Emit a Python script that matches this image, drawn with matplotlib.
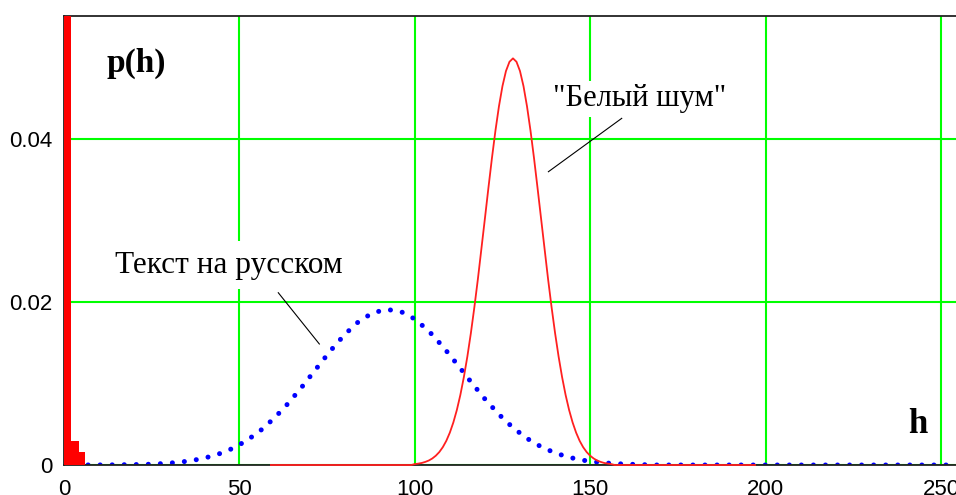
import matplotlib
matplotlib.use('Agg')
import matplotlib.pyplot as plt
import numpy as np

# --- DATA ---

# red bars at the very left
bar_left = [0.0, 2.0, 4.3]
bar_width = [2.0, 2.3, 1.7]
bar_p = [0.5, 0.0029, 0.0016]

# "white noise" histogram, h = 59 .. 197
red_h = np.arange(59, 198)
red_peak = [0.00011, 0.00017, 0.00025, 0.00038, 0.00055, 0.00080, 0.00114,
            0.00159, 0.00219, 0.00297, 0.00397, 0.00522, 0.00675, 0.00860,
            0.01079, 0.01332, 0.01619, 0.01938, 0.02283, 0.02649, 0.03025,
            0.03401, 0.03765, 0.04102, 0.04401, 0.04649, 0.04834, 0.04948,
            0.04990,
            0.04948, 0.04834, 0.04649, 0.04401, 0.04102, 0.03765, 0.03401,
            0.03025, 0.02649, 0.02283, 0.01938, 0.01619, 0.01332, 0.01079,
            0.00860, 0.00675, 0.00522, 0.00397, 0.00297, 0.00219, 0.00159,
            0.00114, 0.00080, 0.00055, 0.00038, 0.00025, 0.00017, 0.00011]
red_p = [0.0] * 41 + red_peak + [0.0] * 41

# russian text histogram, h = 0 .. 256 step 4
blue_h = np.arange(0, 257, 4)
blue_p = [0.0, 0.0, 0.00001, 0.00001, 0.00003, 0.00005, 0.00009, 0.00017,
          0.00030, 0.00051, 0.00084, 0.00133, 0.00202, 0.00297, 0.00422,
          0.00577, 0.00760, 0.00967, 0.01186, 0.01403, 0.01600, 0.01760,
          0.01867, 0.01909, 0.01884, 0.01792, 0.01644, 0.01454, 0.01241,
          0.01021, 0.00810, 0.00620, 0.00458, 0.00326, 0.00224, 0.00148,
          0.00094, 0.00058, 0.00035, 0.00020, 0.00011, 0.00006] + [0.0] * 23

xticks = [0, 50, 100, 150, 200, 250]
yticks = [0, 0.02, 0.04]
ytick_labels = ['0', '0.02', '0.04']

# --- FIGURE ---

fig = plt.figure(figsize=(9.56, 4.95), dpi=100)
ax = fig.add_axes([0.0669, 0.0606, 0.9357, 0.9071])

ax.set_xlim(0, 255)
ax.set_ylim(0, 0.0551)
ax.set_xticks(xticks)
ax.set_yticks(yticks)
ax.set_yticklabels(ytick_labels)
ax.tick_params(length=0, labelsize=16)
ax.tick_params(axis='x', pad=10)
ax.tick_params(axis='y', pad=8)
for lab in ax.get_xticklabels() + ax.get_yticklabels():
    lab.set_family('Liberation Sans')

ax.set_axisbelow(True)
ax.grid(color='#00ff00', lw=1.5)

for side in ['top', 'bottom', 'left']:
    ax.spines[side].set_color('#222222')
    ax.spines[side].set_linewidth(1.3)
ax.spines['right'].set_visible(False)

ax.bar(bar_left, bar_p, width=bar_width, align='edge', color='#ff0000',
       lw=0, zorder=3)
ax.plot(red_h, red_p, color='#ff2020', lw=1.3, zorder=3, clip_on=False)
ax.plot(blue_h, blue_p, color='#0000ff', lw=3.6,
        linestyle=(0, (0.01, 2.4)), dash_capstyle='round', zorder=2)

# labels and pointers
serif = 'Liberation Serif'
ax.text(20.5, 0.0483, 'p(h)', fontsize=24, fontweight='bold', family=serif,
        ha='center', va='baseline')
ax.text(243.3, 0.0039, 'h', fontsize=25, fontweight='bold', family=serif,
        ha='center', va='baseline')
ax.text(47.0, 0.0236, 'Текст на русском', fontsize=22.5, family=serif,
        ha='center', va='baseline', zorder=4,
        bbox=dict(boxstyle='square,pad=0.3', fc='white', ec='none'))
ax.text(164.2, 0.0440, '"Белый шум"', fontsize=22, family=serif,
        ha='center', va='baseline', zorder=4,
        bbox=dict(boxstyle='square,pad=0.12', fc='white', ec='none'))
ax.plot([61.1, 72.8], [0.02114, 0.01485], color='black', lw=0.8, zorder=4)
ax.plot([159.0, 138.1], [0.04254, 0.03599], color='black', lw=0.8, zorder=4)

fig.savefig('out.png', dpi=100)
